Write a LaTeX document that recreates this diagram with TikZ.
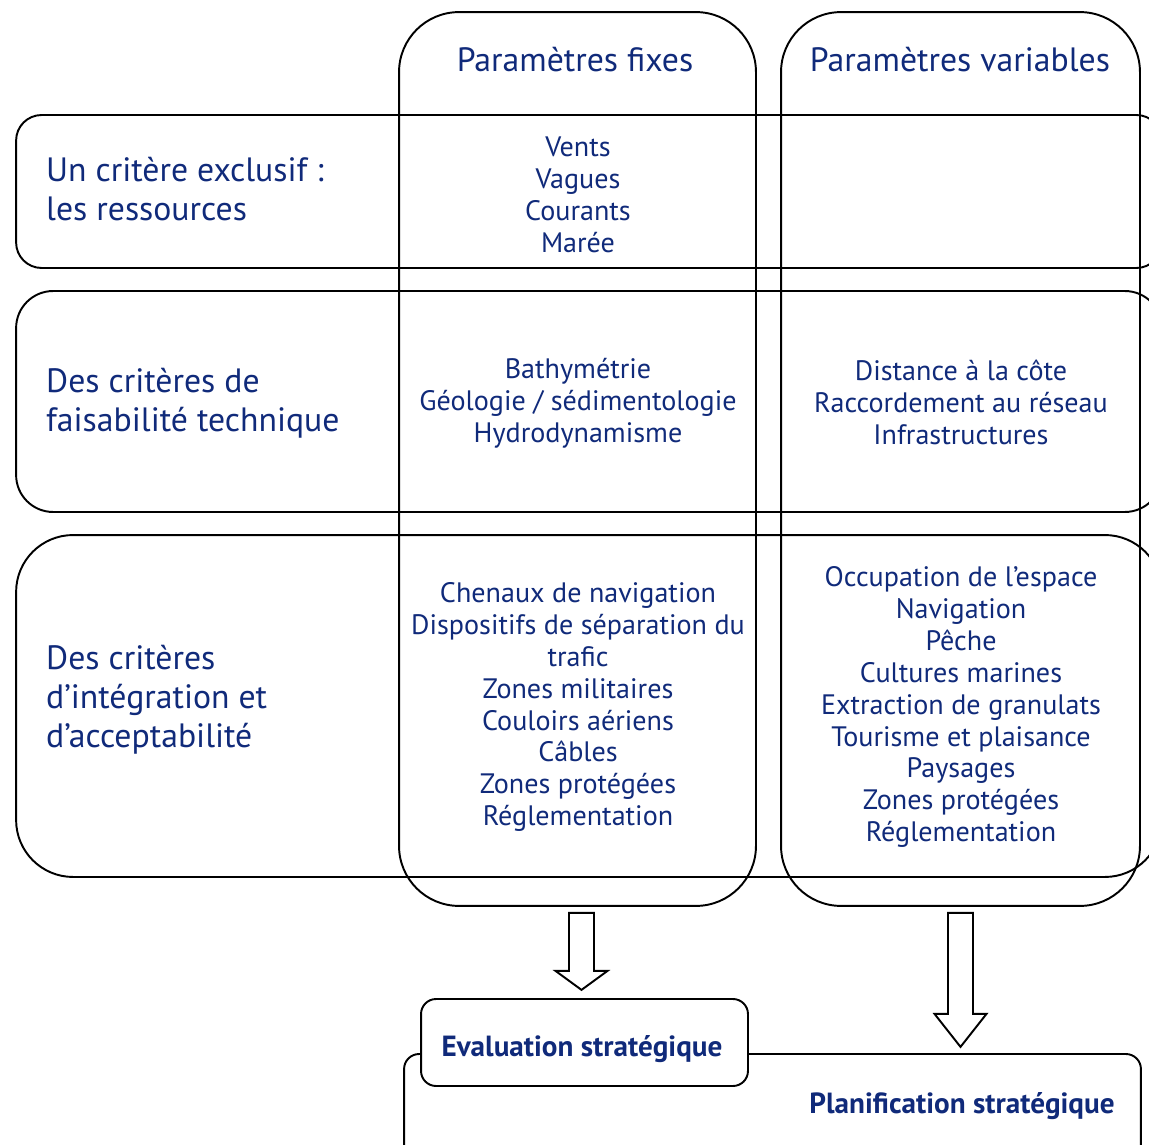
\documentclass[tikz,border=0pt]{standalone}
\usepackage{fontspec}
\setmainfont{PT Sans}
\usetikzlibrary{calc,positioning}

\definecolor{navy}{RGB}{16,42,122}

\tikzset{
  panel/.style={draw, line width=1.1pt, rectangle, inner sep=0pt},
  headtxt/.style={text=navy, font=\fontsize{19.2}{22.2}\selectfont, align=center},
  crittxt/.style={text=navy, font=\fontsize{19.2}{22.2}\selectfont, align=left, anchor=west},
  paramtxt/.style={text=navy, font=\fontsize{16}{18.2}\selectfont, align=center},
  resulttxt/.style={text=navy, font=\bfseries\fontsize{16.6}{18.2}\selectfont},
  blockarrow/.style={draw, line width=1.1pt, fill=white, line join=miter}
}

% block arrow pointing down: #1 top centre, #2 shaft length, #3 head length
\newcommand{\downblock}[3]{%
  \draw[blockarrow] (#1) ++(-12.5,0) -- ++(25,0) -- ++(0,#2) -- ++(13.5,0)
    -- ++(-26,#3) -- ++(-26,-#3) -- ++(13.5,0) -- cycle;
}

\begin{document}
\begin{tikzpicture}[x=0.02cm,y=-0.02cm]
  \useasboundingbox (0,0) rectangle (1149,1145);
  \clip (0,0) rectangle (1149,1145);

  % colonnes
  \node[panel, rounded corners=1.2cm, minimum width=7.14cm, minimum height=17.88cm] (fixes) at (577.5,459) {};
  \node[panel, rounded corners=1.2cm, minimum width=7.18cm, minimum height=17.88cm] (variables) at (960.5,459) {};
  \node[headtxt] (hfixes) at (575,60) {Paramètres fixes};
  \node[headtxt] (hvariables) at (960,60) {Paramètres variables};

  % lignes
  \node[panel, rounded corners=0.51cm, minimum width=22.92cm, minimum height=3.06cm] (ressources) at (589,191.5) {};
  \node[panel, rounded corners=0.74cm, minimum width=22.92cm, minimum height=4.42cm] (faisabilite) at (589,401.5) {};
  \node[panel, rounded corners=1.14cm, minimum width=22.92cm, minimum height=6.84cm] (integration) at (589,706) {};

  \node[crittxt] (cressources) at (40,189) {Un critère exclusif :\\les ressources};
  \node[crittxt] (cfaisabilite) at (40,403) {Des critères de\\faisabilité technique};
  \node[crittxt] (cintegration) at (40,700) {Des critères\\d’intégration et\\d’acceptabilité};

  % parametres
  \node[paramtxt] (pressources) at (578,195) {Vents\\Vagues\\Courants\\Marée};
  \node[paramtxt] (pfaisfixe) at (578,403) {Bathymétrie\\Géologie / sédimentologie\\Hydrodynamisme};
  \node[paramtxt] (pfaisvar) at (961,402) {Distance à la côte\\Raccordement au réseau\\Infrastructures};
  \node[paramtxt] (pintfixe) at (578,707) {Chenaux de navigation\\Dispositifs de séparation du\\trafic\\Zones militaires\\Couloirs aériens\\Câbles\\Zones protégées\\Réglementation};
  \node[paramtxt] (pintvar) at (961,707) {Occupation de l’espace\\Navigation\\Pêche\\Cultures marines\\Extraction de granulats\\Tourisme et plaisance\\Paysages\\Zones protégées\\Réglementation};

  % resultats
  \node[panel, rounded corners=0.3cm, minimum width=14.74cm, minimum height=2.32cm] (planif) at (772.5,1112) {};
  \node[panel, fill=white, rounded corners=0.3cm, minimum width=6.54cm, minimum height=1.74cm] (evaluation) at (584.5,1042.5) {};
  \node[resulttxt] (tevaluation) at (582,1049) {Evaluation stratégique};
  \node[resulttxt] (tplanif) at (962,1106) {Planification stratégique};

  \downblock{$(fixes.south)+(4,6)$}{58}{19}
  \downblock{$(variables.south)+(0,6)$}{101}{33}
\end{tikzpicture}
\end{document}
